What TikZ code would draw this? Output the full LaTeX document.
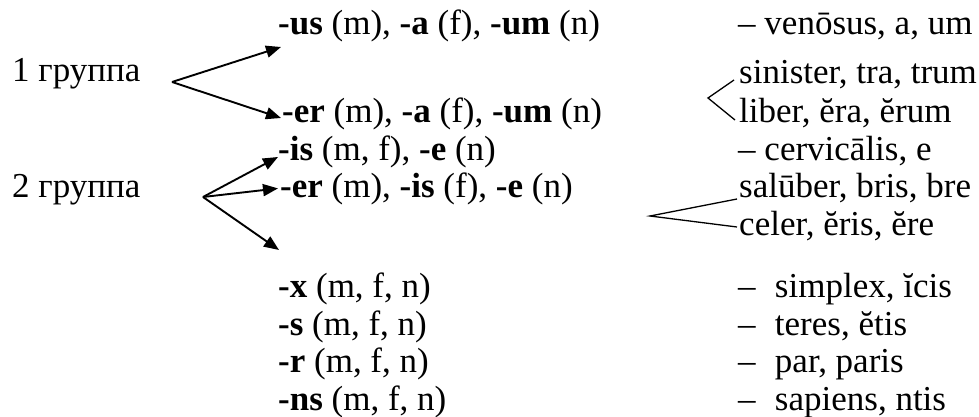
\documentclass[tikz,border=0pt]{standalone}
\usepackage{fontspec}
\setmainfont{Liberation Serif}
\usetikzlibrary{arrows.meta,positioning}

\begin{document}
\begin{tikzpicture}[x=1pt,y=-1pt,>={Triangle[length=15pt,width=12pt]},
    every node/.style={inner sep=0pt,anchor=base west,font=\fontsize{35}{40}\selectfont},
    arr/.style={->,line width=1.9pt},
    brk/.style={line width=1.3pt}]
    \useasboundingbox (0,0) rectangle (979,417);
    % groups
    \node (g1) at (12,82) {1 группа};
    \node (g2) at (12,197) {2 группа};
    % endings
    \node (e1) at (278,35) {\textbf{-us} (m), \textbf{-a} (f), \textbf{-um} (n)};
    \node (e2) at (282,123) {\textbf{-er} (m), \textbf{-a} (f), \textbf{-um} (n)};
    \node (e3) at (278,160) {\textbf{-is} (m, f), \textbf{-e} (n)};
    \node (e4) at (280,197) {\textbf{-er} (m), \textbf{-is} (f), \textbf{-e} (n)};
    \node (e5) at (278,297) {\textbf{-x} (m, f, n)};
    \node (e6) at (278,335) {\textbf{-s} (m, f, n)};
    \node (e7) at (278,372) {\textbf{-r} (m, f, n)};
    \node (e8) at (278,410) {\textbf{-ns} (m, f, n)};
    % examples
    \node (w1) at (738,35) {– venōsus, a, um};
    \node (w2) at (739,84) {sinister, tra, trum};
    \node (w3) at (739,123) {liber, ĕra, ĕrum};
    \node (w4) at (738,160) {– cervicālis, e};
    \node (w5) at (739,197) {salūber, bris, bre};
    \node (w6) at (739,235) {celer, ĕris, ĕre};
    \node (w7) at (738,297) {–\hspace{0.55em}simplex, ĭcis};
    \node (w8) at (738,335) {–\hspace{0.55em}teres, ĕtis};
    \node (w9) at (738,372) {–\hspace{0.55em}par, paris};
    \node (w10) at (738,410) {–\hspace{0.55em}sapiens, ntis};

    \coordinate (a1) at (172,82);
    \draw[arr] (a1) -- ([shift={(3,12)}]e1.base west);
    \draw[arr] (a1) -- ([shift={(-1,-5)}]e2.base west);

    \coordinate (a2) at (203,197);
    \draw[arr] (a2) -- ([shift={(0,-3)}]e3.base west);
    \draw[arr] (a2) -- ([shift={(-2,0)}]e4.west);
    \draw[arr] (a2) -- ([shift={(-1,53)}]e4.base west);

    \coordinate (b1) at (708,98);
    \draw[brk] ([shift={(-5,-4)}]w2.base west) -- (b1) -- ([shift={(-4,-3)}]w3.base west);
    \coordinate (b2) at (650,216);
    \draw[brk] ([shift={(-2,2)}]w5.base west) -- (b2) -- ([shift={(-2,-8)}]w6.base west);
\end{tikzpicture}
\end{document}
